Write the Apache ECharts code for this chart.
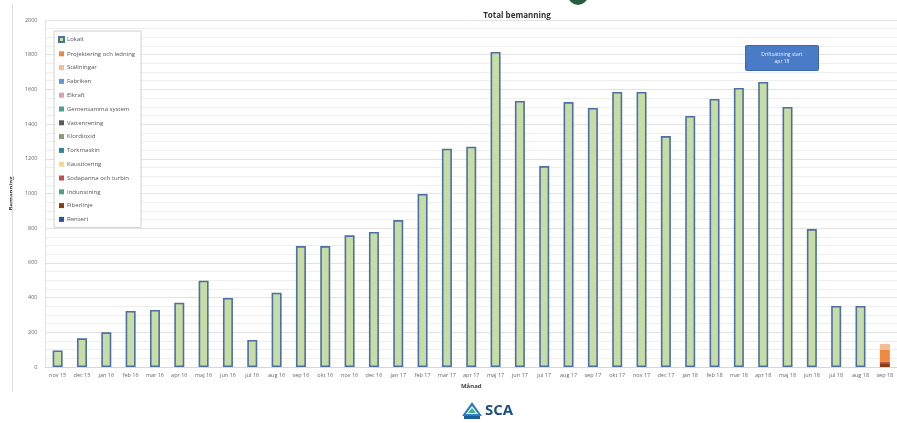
<!DOCTYPE html>
<html>
<head>
<meta charset="utf-8">
<script src="https://cdn.jsdelivr.net/npm/echarts@6/dist/echarts.min.js"></script>
<style>
  html, body { margin: 0; padding: 0; background: #ffffff; }
  #chart { width: 897px; height: 423px; }
</style>
</head>
<body>
<div id="chart"></div>
<script>
// Monthly categories
const months = [
  'nov 15', 'dec 15', 'jan 16', 'feb 16', 'mar 16', 'apr 16', 'maj 16', 'jun 16',
  'jul 16', 'aug 16', 'sep 16', 'okt 16', 'nov 16', 'dec 16', 'jan 17', 'feb 17',
  'mar 17', 'apr 17', 'maj 17', 'jun 17', 'jul 17', 'aug 17', 'sep 17', 'okt 17',
  'nov 17', 'dec 17', 'jan 18', 'feb 18', 'mar 18', 'apr 18', 'maj 18', 'jun 18',
  'jul 18', 'aug 18', 'sep 18'
];

// Headcount per month, main series
const lokalt = [
  95, 165, 200, 323, 329, 371, 497, 398,
  156, 428, 697, 697, 759, 778, 847, 997,
  1258, 1270, 1816, 1533, 1158, 1527, 1493, 1585,
  1585, 1331, 1447, 1545, 1608, 1643, 1499, 795,
  352, 352, null
];

// Breakdown shown in the last month only
const fiberlinje   = [...Array(34).fill(null), 22];
const projektering = [...Array(34).fill(null), 68];
const sodapanna    = [...Array(34).fill(null), 8];
const stallningar  = [...Array(34).fill(null), 35];

// Y-axis tick values
const yTicks = [0, 200, 400, 600, 800, 1000, 1200, 1400, 1600, 1800, 2000];

// Legend entries (series names, drawing order)
const seriesNames = [
  'Lokalt', 'Projektering och ledning', 'Ställningar', 'Fabriken', 'Elkraft',
  'Gemensamma system', 'Vattenrening', 'Klordioxid', 'Torkmaskin', 'Kausticering',
  'Sodapanna och turbin', 'Indunstning', 'Fiberlinje', 'Renseri'
];
const seriesColors = [
  '#c7dda6', '#ed8a3e', '#f6bc94', '#5b9bd5', '#d7a3a3',
  '#3fa58c', '#5a5a5a', '#8a9a72', '#31859c', '#f3dc86',
  '#c0504d', '#4e9f8c', '#8a3d12', '#2e5597'
];
const seriesData = {
  'Lokalt': lokalt,
  'Projektering och ledning': projektering,
  'Ställningar': stallningar,
  'Sodapanna och turbin': sodapanna,
  'Fiberlinje': fiberlinje
};

const series = seriesNames.map((name, i) => {
  const data = seriesData[name] || Array(months.length).fill(null);
  const isMain = name === 'Lokalt';
  return {
    name: name,
    type: 'bar',
    stack: 'total',
    barWidth: 10,
    data: data,
    itemStyle: {
      color: seriesColors[i],
      borderColor: isMain ? '#4d6fa3' : seriesColors[i],
      borderWidth: isMain ? 1.6 : 0
    },
    emphasis: { disabled: true }
  };
});
// Fiber line portion sits at the bottom of the stack
const order = ['Fiberlinje', 'Sodapanna och turbin', 'Projektering och ledning', 'Ställningar'];
series.sort((a, b) => {
  const ia = order.indexOf(a.name), ib = order.indexOf(b.name);
  return (ia < 0 ? -1 : ia) - (ib < 0 ? -1 : ib);
});

const chart = echarts.init(document.getElementById('chart'), null, { renderer: 'canvas' });

chart.setOption({
  animation: false,
  backgroundColor: '#ffffff',
  title: {
    text: 'Total bemanning',
    left: 512,
    top: 7,
    textAlign: 'center',
    textStyle: { fontFamily: 'Open Sans', fontSize: 8, fontWeight: 'bold', color: '#333' }
  },
  legend: {
    data: seriesNames,
    orient: 'vertical',
    left: 54,
    top: 31,
    itemWidth: 5,
    itemHeight: 5,
    itemGap: 7.8,
    padding: [5, 6, 5, 4],
    icon: 'rect',
    backgroundColor: '#ffffff',
    borderColor: '#d0d0d0',
    borderWidth: 1,
    textStyle: { fontFamily: 'Open Sans', fontSize: 6, color: '#555', padding: [0, 0, 0, -2] },
    selectedMode: false
  },
  grid: { left: 43, right: -3, top: 20, bottom: 56 },
  xAxis: {
    type: 'category',
    data: months,
    name: 'Månad',
    nameLocation: 'middle',
    nameGap: 16,
    nameTextStyle: { fontFamily: 'Open Sans', fontSize: 6, fontWeight: 'bold', color: '#444' },
    axisTick: { show: false },
    axisLine: { lineStyle: { color: '#d6d6d6' } },
    axisLabel: { interval: 0, fontFamily: 'Open Sans', fontSize: 5.5, color: '#666', margin: 5 }
  },
  yAxis: {
    type: 'value',
    min: yTicks[0],
    max: yTicks[yTicks.length - 1],
    interval: yTicks[1] - yTicks[0],
    name: 'Bemanning',
    nameLocation: 'middle',
    nameGap: 22,
    nameRotate: 90,
    nameTextStyle: { fontFamily: 'Open Sans', fontSize: 6, fontWeight: 'bold', color: '#444' },
    axisLine: { show: true, lineStyle: { color: '#e2e2e2' } },
    axisTick: { show: false },
    axisLabel: { fontFamily: 'Open Sans', fontSize: 5.5, color: '#666', margin: 8, formatter: v => String(v) },
    splitLine: { show: true, lineStyle: { color: '#e2e2e2', width: 1 } },
    minorTick: { show: false, splitNumber: 4 },
    minorSplitLine: { show: true, lineStyle: { color: '#eeeeee', width: 1 } }
  },
  series: series,
  graphic: [
    // outer frame line on the left
    { type: 'line', z: 100, shape: { x1: 12.5, y1: 4, x2: 12.5, y2: 392 }, style: { stroke: '#dcdcdc', lineWidth: 1 }, silent: true },
    // partial round emblem at the top
    { type: 'circle', z: 100, shape: { cx: 578, cy: -5, r: 10 }, style: { fill: '#285e40' }, silent: true },
    // milestone note
    {
      type: 'group', left: 745, top: 45, z: 100,
      children: [
        { type: 'rect', z: 100, shape: { x: 0, y: 0, width: 73, height: 25, r: 1 }, style: { fill: '#4a7bc6', stroke: '#3c67a8', lineWidth: 1 } },
        { type: 'text', z: 101, style: { x: 36.5, y: 12.5, text: 'Driftsättning start\napr 18', fill: '#e8eefa', fontSize: 5, lineHeight: 7, align: 'center', verticalAlign: 'middle', fontFamily: 'Open Sans' } }
      ],
      silent: true
    },
    // company mark at the bottom
    {
      type: 'group', left: 462, top: 402, z: 100,
      children: [
        { type: 'polygon', shape: { points: [[0, 14], [10, 0], [20, 14]] }, style: { fill: '#2f7fc1' } },
        { type: 'polygon', shape: { points: [[4, 12], [10, 4], [16, 12]] }, style: { fill: '#ffffff' } },
        { type: 'polygon', shape: { points: [[6, 11], [10, 6], [14, 11]] }, style: { fill: '#3fae7a' } },
        { type: 'rect', shape: { x: 2, y: 14, width: 16, height: 3 }, style: { fill: '#1d5f9a' } },
        { type: 'text', style: { x: 23, y: 9, text: 'SCA', fill: '#1e4f86', fontSize: 15, fontWeight: 'bold', fontFamily: 'Open Sans', verticalAlign: 'middle' } }
      ],
      silent: true
    }
  ]
});
</script>
</body>
</html>
